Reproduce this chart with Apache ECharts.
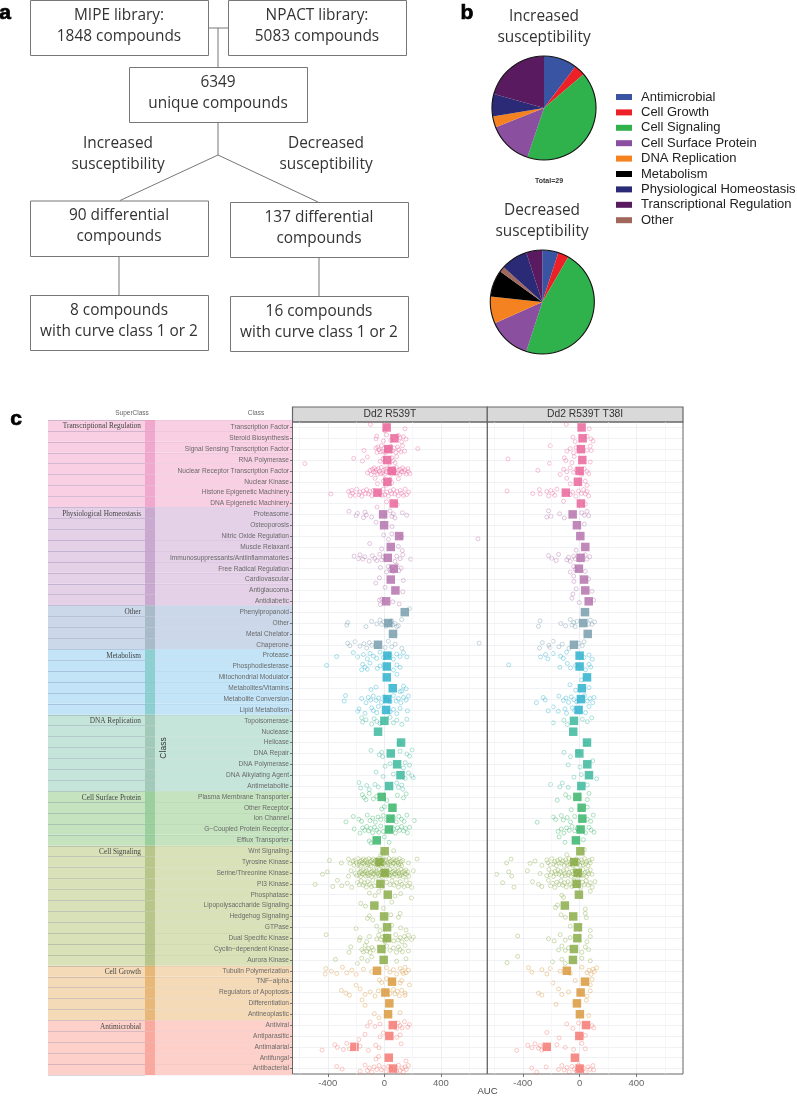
<!DOCTYPE html>
<html><head><meta charset="utf-8">
<style>html,body{margin:0;padding:0;background:#fff}#c{width:797px;height:1096px}</style>
<script src="https://cdn.jsdelivr.net/npm/echarts@6/dist/echarts.min.js"></script>
</head><body><div id="c"></div>
<script>
const classNames = ['Transcription Factor','Steroid Biosynthesis','Signal Sensing Transcription Factor','RNA Polymerase','Nuclear Receptor Transcription Factor','Nuclear Kinase','Histone Epigenetic Machinery','DNA Epigenetic Machinery',
'Proteasome','Osteoporosis','Nitric Oxide Regulation','Muscle Relaxant','Immunosuppressants/Antiinflammatories','Free Radical Regulation','Cardiovascular','Antiglaucoma','Antidiabetic',
'Phenylpropanoid','Other','Metal Chelator','Chaperone',
'Protease','Phosphodiesterase','Mitochondrial Modulator','Metabolites/Vitamins','Metabolite Conversion','Lipid Metabolism',
'Topoisomerase','Nuclease','Helicase','DNA Repair','DNA Polymerase','DNA Alkylating Agent','Antimetabolite',
'Plasma Membrane Transporter','Other Receptor','Ion Channel','G\u2212Coupled Protein Receptor','Efflux Transporter',
'Wnt Signaling','Tyrosine Kinase','Serine/Threonine Kinase','PI3 Kinase','Phosphatase','Lipopolysaccharide Signaling','Hedgehog Signaling','GTPase','Dual Specific Kinase','Cyclin\u2212dependent Kinase','Aurora Kinase',
'Tubulin Polymerization','TNF\u2212alpha','Regulators of Apoptosis','Differentiation','Antineoplastic',
'Antiviral','Antiparasitic','Antimalarial','Antifungal','Antibacterial'];
const superNames = ['Transcriptional Regulation','Physiological Homeostasis','Other','Metabolism','DNA Replication','Cell Surface Protein','Cell Signaling','Cell Growth','Antimicrobial'];
const superCounts = [8,9,4,6,7,5,11,5,5];
const meanColors = ['#e95e96','#b06ba8','#6f97a8','#20aecb','#30b497','#2eb262','#83a83e','#d89331','#f5716a'];
const bandColors = ['#f8cfe3','#e4d1e7','#cbd8e9','#c3e4f7','#c6e5da','#c5e3bf','#d9e1b8','#f4dab7','#fdd1c9'];
const bandDark   = ['#f0a8cc','#c9a9cf','#a9bac8','#8ed0d2','#a3c9bb','#9bcf9d','#b8c68b','#e8b878','#f9a9a0'];

const means1 = [16,71,28,19,52,21,-49,66,-9,-2,104,45,24,66,45,78,12,144,28,61,-45,21,17,17,59,21,12,0,-45,118,45,90,114,33,-19,57,43,33,-54,2,-35,2,-28,24,-71,-2,19,19,-21,-5,-52,54,7,35,26,59,35,-212,31,61];
const means2 = [14,21,9,19,0,-12,-97,9,-49,-19,5,40,7,-5,31,40,64,38,26,57,-40,0,0,52,16,9,-7,-40,-45,52,-2,54,66,12,-16,14,19,7,-26,5,-38,-14,-21,-5,-104,-45,-12,-16,-40,-47,-90,38,7,-19,2,45,-2,-231,-33,0];

const pts1 = [
[-99,146,22,4],
[-54,-59,-7,16,45,111,122,134,153,99],
[-144,-59,-52,-46,-39,-27,-20,-11,-4,6,17,27,44,58,69,81,93,103,117,128,143,236],
[-563,-217,-155,-120,-30,-10,36,52,63,75,87],
[-120,-101,-93,-84,-77,-72,-63,-58,-49,-43,-35,-27,-22,-13,-6,1,8,13,22,34,43,51,60,70,79,84,93,100,109,114,123,129,138,145,154,166,171,180],
[-66,-49,-7,12,40,52,99],
[-379,-254,-241,-231,-224,-207,-196,-182,-173,-160,-149,-135,-126,-112,-102,-89,-78,-31,-18,-8,4,17,27,41,51,65,74,88,98,112,122,135,147,157,171],
[-52,16,90],
[-250,-200,-191,-148,-137,-128,-90,40,52,63,75,127,158],
[-59,54],
[-5,28,52,122,662],
[-104,-19,99,127],
[-214,-184,-172,-153,-138,-108,-85,-68,-54,-33,-20,-9,75,87,111,130,186],
[-28,16,27,41,63,88,103,118],
[-61,-35,134],
[5,130],
[-35,-29,-19,59,104],
[177],
[-266,-260,-130,-90,-54,-31,-19,-5,12,52,75,99,122,60,41,88],
[],
[-260,-244,-208,-173,-144,-125,-106,-90,5,28,52,76,123,670],
[-338,-220,-189,-149,-121,-102,-78,-54,-31,-7,40,64,87,111,135,159],
[-409,-161,-154,-137,-121,-102,-50,-31,64,88,111],
[88],
[-95,-59,111,135,154,123],
[-275,-284,-161,-130,-114,-97,-78,-59,-40,-21,-2,17,40,64,83,99,116,135,154,170],
[-189,-180,-137,-90,-78,-54,-43,40,64,88,111,163],
[-161,-154,-130,-90,-73,-54,-31,40,64,88,123,159],
[],
[104],
[-95,-36,-19,-12,111,159,178,196],
[5,40,135,147,178],
[-59,-9,64,147,170,194,204],
[-180,-168,-125,-107,-66,-43,88,99,123,130],
[-156,-144,-130,-107,-78,-54,17,92,135,154],
[-19,0],
[-272,-220,-182,-161,-121,-102,-83,-64,-45,-26,-7,17,64,83,102,121,140,159,211],
[-213,-173,-154,-139,-125,-111,-97,-83,-69,-54,-40,-26,-7,64,78,92,107,121,135,149,163,178],
[-107,-95,0,33],
[66,-26],
[-389,-304,-254,-243,-221,-214,-207,-199,-191,-186,-179,-173,-168,-160,-156,-149,-143,-138,-134,-127,-121,-118,-110,-105,-99,-96,-89,-83,-80,-72,-69,-61,-56,-50,-47,-40,-34,-31,-23,-18,-13,-9,-2,4,10,13,21,25,32,38,42,49,53,61,65,72,78,82,89,95,101,105,113,119,123,131,170,231],
[-438,-403,-254,-236,-207,-196,-188,-182,-175,-169,-163,-156,-151,-144,-138,-133,-126,-120,-116,-109,-104,-97,-92,-86,-81,-74,-70,-63,-59,-52,-48,-41,-36,-29,-25,-18,-12,-7,-1,6,11,16,24,28,35,39,47,51,58,63,69,75,80,86,92,99,103,109,116,122,127,134,139,146,151,158,165,172,205],
[-490,-365,-332,-302,-262,-231,-190,-178,-165,-150,-140,-128,-118,-104,-92,-82,-70,-38,-20,16,40,54,68,86,99,112,124,139,154,166,179,193],
[-106,-66,-40,75,115,191],
[-167,-134,-7,52],
[-120,-106,-82,45,99,111],
[-200,-54,-31,52,115,153],
[-412,-177,-172,-125,-106,-54,-40,-26,-12,2,16,31,66,80,97,111,125,142,156,170,191,205],
[-250,-238,-160,-148,-136,-125,-113,-101,-89,-78,16,40,64,85,99,111,128,146,170],
[-346,-191,-160,-120,-90,87,153],
[-419,-414,-375,-337,-297,-266,-231,-200,-148,-90,16,40,64,87,111,125,134,146,153,170],
[-200,-35,-19,16,111,122,177],
[-304,-273,-247,-172,-137,-101,-66,-42,40,64,75,92,106,122,146,146],
[-158,-137],
[-71,-38,111],
[-120,-101,-66,-31,87,97,111,125,142,165,177],
[-181,-137,-31,-7,87,111],
[-441,-351,-332,-290,-266,-247,-172,-113,-61,-38,118],
[-59,-42,153],
[-337,-299,-172,-137,-120,-106,-90,-73,-54,-38,-21,-5,12,29,45,87,99,111,125,134,146,155,170]
];

const pts2 = [
[-94,68],
[-47,-31,52,80,94],
[-207,-90,-66,-42,-24,52,75,82],
[-504,-212,-108,-97,-54,-38,75],
[-294,-137,-113,-90,-66,-42,-24,16,33,52,64],
[-90,-66,40,52],
[-511,-330,-283,-278,-231,-218,-202,-190,-175,-160,-66,-48,-26,-7,12,28,40,52,64],
[-113,40],
[-231,-219,-202,-141,-108,16,33,52,64],
[33],
[],
[-24],
[-219,-196,-165,-148,-90,-78,-66,-42,-31,40,52,71],
[-66,-42,-31,40],
[-42,-40,64],
[-47,-24,87],
[-54,-2,99],
[],
[-290,-278,-132,-99,-66,-54,-42,-31,-19,64,75,87,106],
[],
[-282,-263,-216,-209,-186,-146,-122,-75,-5,19,31],
[-275,-240,-224,-186,-134,-115,-92,31,66,89],
[-499,-139,-87,-64,-28,42,66,78],
[14],
[-68,-28,66],
[-304,-256,-242,-146,-115,-96,-78,-59,-40,-21,35,54,73,92,101],
[-221,-186,-151,-103,-92,-52,-35,42,66],
[-186,-111,-87,19,54,85],
[],
[45],
[-111,-64,-12],
[-80,2,92],
[-40,12,120],
[-205,-139,-122,-80,54],
[-157,-99,-75,54,66],
[-59,54],
[-299,-186,-169,-129,-115,-87,-64,-35,54,78,96],
[-151,-129,-111,-92,-73,-54,-35,-16,42,66,82,101],
[-144,-103,26],
[-90,33],
[-514,-483,-349,-314,-266,-231,-222,-207,-196,-184,-175,-165,-156,-144,-138,-127,-118,-109,-99,-92,-82,-73,-66,-56,-47,-40,-31,-24,-14,-7,2,12,19,26,35,42,49,59,66,75,87],
[-584,-499,-478,-368,-278,-231,-217,-205,-196,-184,-172,-165,-153,-146,-134,-125,-115,-106,-99,-89,-80,-73,-61,-54,-45,-35,-28,-19,-12,-2,7,14,24,31,40,47,56,64,75,87],
[-542,-462,-332,-290,-266,-219,-205,-189,-175,-160,-146,-132,-118,-106,-94,-82,-66,-54,-40,-26,-12,7,21,33,45,61,75,89,108],
[-125,-113,75],
[-170,-156,40],
[-130,-101,40,47],
[-66,75],
[-436,-219,-179,-137,-101,-66,52,75],
[-148,-125,-101,-78,16,40,64],
[-511,-436,-191,-125,-101,16,75],
[-360,-337,-266,-231,-207,-137,-66,16,52,66,80,94,104,120],
[-188,-31,75,87],
[-290,-266,-148,-125,-78,52,75],
[-165,47],
[64],
[-90,-47,-7,87,99],
[-231,-144,40],
[-443,-365,-337,-314,-290,-278,-266,-160,-101,-42,16,40],
[],
[-337,-302,-236,-148,-125,-108,-89,-73,-54,-38,-21,-7,9,26,42,59,73,94,99]
];

const jitterCycle = [-.28,.12,-.1,.3,-.2,.05,.25,-.32,.18,-.05,.33,-.15,.08];

const tickValues = [-400,0,400];
const minorValues = [-600,-200,200,600];
const panelNames = ['Dd2 R539T','Dd2 R539T T38I'];

const pieNames = ['Antimicrobial','Cell Growth','Cell Signaling','Cell Surface Protein','DNA Replication','Metabolism','Other','Physiological Homeostasis','Transcriptional Regulation'];
const pieColors = ['#3a54a4','#ed2027','#2fb24c','#8a4f9f','#f58220','#000000','#a0685c','#2b2a77','#5a1a60'];
const pieIncreased = [3,1,12,4,1,0,0,2,6];
const pieDecreased = [3,2,28,8,5,5,1,5,3];
const legendOrder = ['Antimicrobial','Cell Growth','Cell Signaling','Cell Surface Protein','DNA Replication','Metabolism','Physiological Homeostasis','Transcriptional Regulation','Other'];

const flowBoxes = [
 [30,0,178,55,'MIPE library:','1848 compounds'],
 [228,0,178,55,'NPACT library:','5083 compounds'],
 [129,67,178,55,'6349','unique compounds'],
 [30,200.5,178,55.5,'90 differential','compounds'],
 [230,202,178,55,'137 differential','compounds'],
 [30,295,178,55,'8 compounds','with curve class 1 or 2'],
 [230,296,178,55,'16 compounds','with curve class 1 or 2']];
const flowLinks = [[208,28,228,28],[218,28,218,67],[218,122,218,155],[218,155,120,200.5],[218,155,318,202],[119,256,119,295],[319,257,319,296]];

const rowSuper = [];
superCounts.forEach((n,i)=>{for(let k=0;k<n;k++)rowSuper.push(i);});
const firstRow = {};
rowSuper.forEach((s,r)=>{if(firstRow[s]===undefined)firstRow[s]=r;});

function pointData(pts){
  const out=[];let n=0;
  pts.forEach((row,r)=>row.forEach(v=>{
    out.push({value:[v,r+jitterCycle[n++%jitterCycle.length]],itemStyle:{borderColor:meanColors[rowSuper[r]]}});
  }));
  return out;
}
function meanData(m){
  return m.map((v,r)=>({value:[v,classNames[r]],itemStyle:{color:meanColors[rowSuper[r]]}}));
}
const xCommon = {type:'value',min:-650,max:728,position:'bottom',
  axisLine:{show:false,onZero:false},
  axisTick:{show:true,customValues:tickValues,length:3,lineStyle:{color:'#555',width:.8}},
  axisLabel:{customValues:tickValues,color:'#666',fontSize:9.5,fontFamily:'Liberation Sans',margin:4},
  splitLine:{show:true,lineStyle:{color:'#e9ebf1',width:.8}}};
const yCat = {type:'category',data:classNames,inverse:true,position:'left',axisLine:{show:false,onZero:false},
  axisTick:{show:false,alignWithLabel:true},axisLabel:{show:false},
  splitLine:{show:true,alignWithLabel:true,interval:0,lineStyle:{color:'#eceef3',width:.8}}};
const yVal = {type:'value',inverse:true,min:-.5,max:59.5,show:false,splitLine:{show:false}};
const rowRule = a=>({type:'category',data:classNames,inverse:true,z:3,axisLine:{show:false,onZero:false},axisTick:{show:false},axisLabel:{show:false},
  splitLine:{show:true,interval:0,lineStyle:{color:'rgba(70,70,130,'+a+')',width:.7}}});

function panelSeries(xi,yc,yv,pts,means){
  return [
   {type:'scatter',xAxisIndex:xi,yAxisIndex:yv,silent:true,symbol:'circle',symbolSize:4,
    itemStyle:{color:'rgba(255,255,255,0)',borderWidth:.7,opacity:.55},data:pointData(pts),z:3,
    markLine:{silent:true,symbol:'none',label:{show:false},lineStyle:{color:'#f1f2f6',width:.6,type:'solid'},
      data:minorValues.map(v=>({xAxis:v}))}},
   {type:'scatter',xAxisIndex:xi,yAxisIndex:yc,silent:true,symbol:'rect',symbolSize:8.5,data:meanData(means),z:4}
  ];
}
const segWeights = [97,10,137];
function bandSeries(seg){
  return {type:'bar',xAxisIndex:2,yAxisIndex:4,stack:'b',barWidth:'100%',silent:true,z:1,
    data:classNames.map((c,r)=>{
      const s=rowSuper[r];
      const item={value:segWeights[seg],itemStyle:{color:seg===1?bandDark[s]:bandColors[s]}};
      if(seg===0&&firstRow[s]===r)item.label={show:true,formatter:superNames[s],position:'insideRight',distance:4,offset:[0,1],
        fontFamily:'Liberation Serif',fontSize:7.3,color:'#444'};
      return item;
    })};
}
function pieSeries(vals,cx,cy){
  return [{type:'pie',center:[cx,cy],radius:[0,52],startAngle:90,clockwise:true,silent:true,label:{show:false},labelLine:{show:false},
      itemStyle:{borderWidth:0},stillShowZeroSum:false,
      color:pieColors,data:pieNames.map((n,i)=>({name:n,value:vals[i]}))},
    {type:'pie',center:[cx,cy],radius:[51.5,52.6],silent:true,label:{show:false},labelLine:{show:false},
      color:['#111'],data:[{name:'outline',value:1}]}];
}
const txt=(x,y,t,o={})=>({type:'text',x,y,silent:true,style:Object.assign({text:t,fill:'#333',font:'15.4px "Open Sans"',textAlign:'center',textVerticalAlign:'middle'},o)});
const letter=(x,y,t)=>txt(x,y,t,{font:'bold 21px "Liberation Sans"',fill:'#000',stroke:'#000',lineWidth:.7});
const gfx=[];
flowLinks.forEach(l=>gfx.push({type:'line',silent:true,shape:{x1:l[0],y1:l[1],x2:l[2],y2:l[3]},style:{stroke:'#777',lineWidth:1}}));
flowBoxes.forEach(b=>{
  gfx.push({type:'rect',silent:true,shape:{x:b[0]+.5,y:b[1]+.5,width:b[2],height:b[3]},style:{fill:'#fff',stroke:'#777',lineWidth:1}});
  gfx.push(txt(b[0]+b[2]/2,b[1]+15.5,b[4]),txt(b[0]+b[2]/2,b[1]+36.5,b[5]));
});
gfx.push(
  txt(118,144,'Increased'),txt(118,165,'susceptibility'),
  txt(326,144,'Decreased'),txt(326,165,'susceptibility'),
  txt(544,17,'Increased'),txt(544,38,'susceptibility'),
  txt(542,211,'Decreased'),txt(542,232,'susceptibility'),
  txt(549,181,'Total=29',{font:'bold 7px "Liberation Sans"',fill:'#333'}),
  letter(5,13,'a'),letter(467,13,'b'),letter(16,419,'c'),
  txt(132,413,'SuperClass',{font:'6.5px "Liberation Sans"',fill:'#666'}),
  txt(256,413,'Class',{font:'6.5px "Liberation Sans"',fill:'#666'}),
  {type:'text',x:164,y:748,rotation:Math.PI/2,silent:true,z:10,style:{text:'Class',font:'8.5px "Liberation Sans"',fill:'#333',textAlign:'center',textVerticalAlign:'middle'}},
  txt(487.5,1091,'AUC',{font:'9.5px "Liberation Sans"',fill:'#444'})
);
[[292.5,194.8],[487.3,195.7]].forEach((p,i)=>{
  gfx.push({type:'rect',silent:true,shape:{x:p[0],y:407,width:p[1],height:15},style:{fill:'#d9d9d9',stroke:'#666',lineWidth:1.2}});
  gfx.push(txt(p[0]+p[1]/2,414.5,panelNames[i],{font:'10.3px "Liberation Sans"',fill:'#333'}));
});

const chart=echarts.init(document.getElementById('c'),null,{renderer:'canvas'});
chart.setOption({
  animation:false,backgroundColor:'#fff',
  grid:[
   {left:292.5,top:422,width:194.8,height:652,show:true,borderColor:'#666',borderWidth:1,backgroundColor:'transparent',z:2},
   {left:487.3,top:422,width:195.7,height:652,show:true,borderColor:'#666',borderWidth:1,backgroundColor:'transparent',z:2},
   {left:48,top:420,width:244,height:655},
   {left:48,top:420,width:97,height:655}
  ],
  xAxis:[
   Object.assign({},xCommon,{gridIndex:0}),
   Object.assign({},xCommon,{gridIndex:1}),
   {type:'value',gridIndex:2,min:0,max:244,show:false},
   {type:'value',gridIndex:3,min:0,max:1,show:false}
  ],
  yAxis:[
   Object.assign({},yCat,{gridIndex:0}),
   Object.assign({},yVal,{gridIndex:0}),
   Object.assign({},yCat,{gridIndex:1}),
   Object.assign({},yVal,{gridIndex:1}),
   Object.assign(rowRule(.07),{gridIndex:2}),
   Object.assign(rowRule(.24),{gridIndex:3}),
   {type:'category',data:classNames,inverse:true,gridIndex:0,position:'left',z:5,
     axisLine:{show:false,onZero:false},splitLine:{show:false},
     axisTick:{show:true,alignWithLabel:true,length:2.5,lineStyle:{color:'#555',width:.8}},
     axisLabel:{show:true,interval:0,color:'#6a6a6a',fontSize:6.6,fontFamily:'Liberation Sans',margin:3.5}}
  ],
  legend:{orient:'vertical',left:616,top:90,padding:0,itemWidth:16,itemHeight:6,itemGap:1.4,icon:'rect',selectedMode:false,
    data:legendOrder,textStyle:{fontFamily:'Liberation Sans',fontSize:13,color:'#222',padding:[0,0,0,4],lineHeight:14}},
  series:[
   bandSeries(0),bandSeries(1),bandSeries(2),
   ...panelSeries(0,0,1,pts1,means1),
   ...panelSeries(1,2,3,pts2,means2),
   ...pieSeries(pieIncreased,544,108),
   ...pieSeries(pieDecreased,542.3,302)
  ],
  graphic:gfx
});
</script></body></html>
